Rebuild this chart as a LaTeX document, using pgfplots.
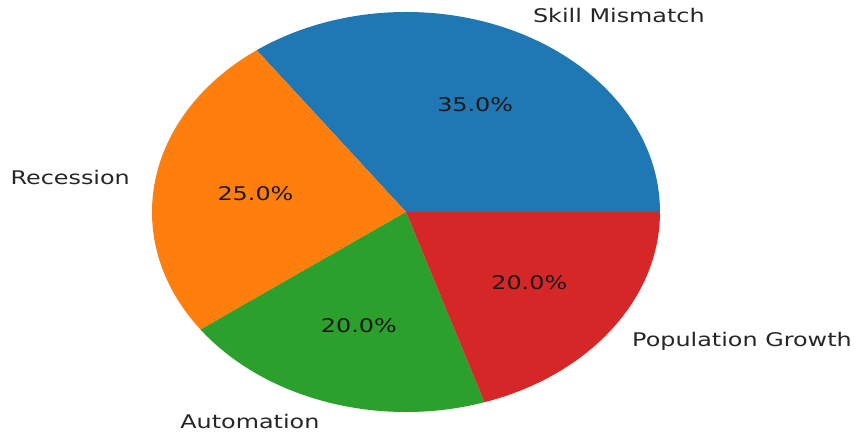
\documentclass[border=0pt]{standalone}
\usepackage{fontspec}
\usepackage{pgfplots}
\usepackage{pgfplotstable}
\pgfplotsset{compat=1.18}
\newfontfamily\lbl{DejaVu Sans}[FakeStretch=1.27]
\definecolor{tabblue}{HTML}{1F77B4}
\definecolor{taborange}{HTML}{FF7F0E}
\definecolor{tabgreen}{HTML}{2CA02C}
\definecolor{tabred}{HTML}{D62728}
\pgfplotstableread{
label value
{Skill Mismatch} 35
Recession 25
Automation 20
{Population Growth} 20
}\piedata
\begin{document}
\begin{tikzpicture}
\pgfplotstablegetelem{0}{value}\of\piedata \edef\vA{\pgfplotsretval}
\pgfplotstablegetelem{1}{value}\of\piedata \edef\vB{\pgfplotsretval}
\pgfplotstablegetelem{2}{value}\of\piedata \edef\vC{\pgfplotsretval}
\pgfplotstablegetelem{3}{value}\of\piedata \edef\vD{\pgfplotsretval}
\pgfplotstablegetelem{0}{label}\of\piedata \edef\lA{\pgfplotsretval}
\pgfplotstablegetelem{1}{label}\of\piedata \edef\lB{\pgfplotsretval}
\pgfplotstablegetelem{2}{label}\of\piedata \edef\lC{\pgfplotsretval}
\pgfplotstablegetelem{3}{label}\of\piedata \edef\lD{\pgfplotsretval}
\pgfmathsetmacro\tot{\vA+\vB+\vC+\vD}
\pgfmathsetmacro\aA{0}
\pgfmathsetmacro\aB{\vA/\tot*360}
\pgfmathsetmacro\aC{(\vA+\vB)/\tot*360}
\pgfmathsetmacro\aD{(\vA+\vB+\vC)/\tot*360}
\pgfmathsetmacro\aE{360}
\pgfmathsetmacro\mA{(\aA+\aB)/2}
\pgfmathsetmacro\mB{(\aB+\aC)/2}
\pgfmathsetmacro\mC{(\aC+\aD)/2}
\pgfmathsetmacro\mD{(\aD+\aE)/2}
\pgfmathsetmacro\pA{\vA/\tot*100}
\pgfmathsetmacro\pB{\vB/\tot*100}
\pgfmathsetmacro\pC{\vC/\tot*100}
\pgfmathsetmacro\pD{\vD/\tot*100}
\pgfkeys{/pgf/number format/.cd,fixed,fixed zerofill,precision=1,assume math mode=true}
\tikzset{pct/.style={font=\lbl\fontsize{18.8}{22}\selectfont,text=black!90,inner sep=0pt},
         lab/.style={font=\lbl\fontsize{18.8}{22}\selectfont,text=black!85,inner sep=0pt}}
\begin{axis}[x=1pt,y=1pt,xmin=0,xmax=855,ymin=0,ymax=434,hide axis,clip=false,scale only axis]
\fill[tabblue]   (axis cs:406,219) -- ++(\aA:254pt and 200pt) arc[start angle=\aA,end angle=\aB,x radius=254pt,y radius=200pt] -- cycle;
\fill[taborange] (axis cs:406,219) -- ++(\aB:254pt and 200pt) arc[start angle=\aB,end angle=\aC,x radius=254pt,y radius=200pt] -- cycle;
\fill[tabgreen]  (axis cs:406,219) -- ++(\aC:254pt and 200pt) arc[start angle=\aC,end angle=\aD,x radius=254pt,y radius=200pt] -- cycle;
\fill[tabred]    (axis cs:406,219) -- ++(\aD:254pt and 200pt) arc[start angle=\aD,end angle=\aE,x radius=254pt,y radius=200pt] -- cycle;
\path (axis cs:406,219) ++(\mA:152.4pt and 120pt) node[pct] {\pgfmathprintnumber{\pA}\%};
\path (axis cs:406,219) ++(\mB:152.4pt and 120pt) node[pct] {\pgfmathprintnumber{\pB}\%};
\path (axis cs:406,219) ++(\mC:152.4pt and 120pt) node[pct] {\pgfmathprintnumber{\pC}\%};
\path (axis cs:406,219) ++(\mD:152.4pt and 120pt) node[pct] {\pgfmathprintnumber{\pD}\%};
\path (axis cs:406,219) ++(\mA:279.4pt and 220pt) node[lab,anchor=west] {\lA};
\path (axis cs:406,219) ++(\mB:279.4pt and 220pt) node[lab,anchor=east] {\lB};
\path (axis cs:406,219) ++(\mC:279.4pt and 220pt) node[lab,anchor=east] {\lC};
\path (axis cs:406,219) ++(\mD:279.4pt and 220pt) node[lab,anchor=west] {\lD};
\end{axis}
\pgfresetboundingbox
\path (0,-3pt) rectangle (855pt,431pt);
\end{tikzpicture}
\end{document}
